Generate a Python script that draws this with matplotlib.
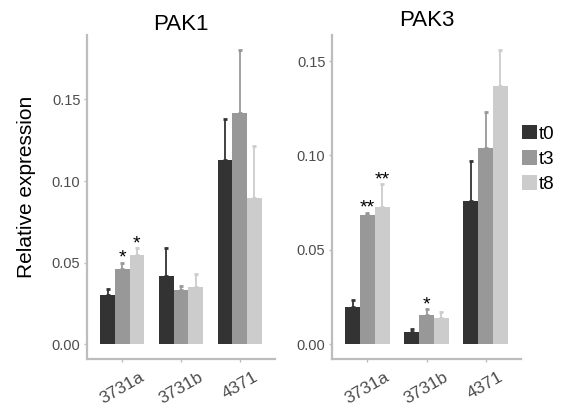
import numpy as np
import matplotlib
matplotlib.use("Agg")
import matplotlib.pyplot as plt
from matplotlib.patches import Patch

plt.rcParams['font.family'] = ['Liberation Sans', 'DejaVu Sans']

# data
genes = ['3731a', '3731b', '4371']
times = ['t0', 't3', 't8']
colors = ['#333333', '#989898', '#cccccc']

pak1_mean = {'t0': [0.030, 0.042, 0.113],
             't3': [0.046, 0.033, 0.1415],
             't8': [0.055, 0.035, 0.0895]}
pak1_err = {'t0': [0.004, 0.017, 0.025],
            't3': [0.004, 0.003, 0.039],
            't8': [0.004, 0.008, 0.032]}
pak1_stars = {'t3': ['*', '', ''], 't8': ['*', '', '']}

pak3_mean = {'t0': [0.0197, 0.0063, 0.076],
             't3': [0.0687, 0.0157, 0.104],
             't8': [0.0725, 0.0141, 0.137]}
pak3_err = {'t0': [0.0039, 0.0016, 0.0212],
            't3': [0.0010, 0.0028, 0.019],
            't8': [0.0124, 0.0028, 0.019]}
pak3_stars = {'t3': ['**', '*', ''], 't8': ['**', '', '']}

axis_grey = '#bdbdbd'
tick_grey = '#4d4d4d'


def draw_panel(ax, means, errs, stars, title, title_pad):
    x = np.arange(len(genes)) + 1
    w = 0.25
    top = 0
    for i, t in enumerate(times):
        xi = x + (i - 1) * w
        m = np.array(means[t])
        e = np.array(errs[t])
        ax.bar(xi, m, width=w, color=colors[i], linewidth=0, zorder=2)
        ax.errorbar(xi, m, yerr=[np.zeros_like(e), e], fmt='none',
                    ecolor=colors[i], elinewidth=1.3, capsize=1.6,
                    capthick=2, zorder=1)
        top = max(top, (m + e).max())
        if t in stars:
            for xx, yy, s in zip(xi, m + e, stars[t]):
                if s:
                    ax.text(xx, yy, s, ha='center', va='baseline',
                            fontsize=14, color='black')
    # ggplot style expansion
    ax.set_ylim(-0.05 * top, top * 1.05)
    ax.set_xlim(0.4, 3.6)
    ax.set_xticks(x)
    ax.set_xticklabels(genes, rotation=30, ha='center', va='top',
                       fontsize=12.5, color=tick_grey)
    ax.set_yticks([0, 0.05, 0.10, 0.15])
    ax.set_yticklabels(['0.00', '0.05', '0.10', '0.15'], fontsize=10.5,
                       color=tick_grey)
    ax.tick_params(axis='both', colors=axis_grey, length=2.2, width=1)
    ax.tick_params(axis='x', pad=5)
    ax.tick_params(axis='y', pad=2.5)
    for lab in ax.get_xticklabels() + ax.get_yticklabels():
        lab.set_color(tick_grey)
    for s in ['top', 'right']:
        ax.spines[s].set_visible(False)
    for s in ['left', 'bottom']:
        ax.spines[s].set_color(axis_grey)
        ax.spines[s].set_linewidth(1.6)
        ax.spines[s].set_capstyle('projecting')
    ax.set_title(title, fontsize=16, pad=title_pad)


fig = plt.figure(figsize=(5.76, 4.16), dpi=100)
ax1 = fig.add_axes([87 / 576, 57 / 416, 188 / 576, 324 / 416])
ax2 = fig.add_axes([332 / 576, 57 / 416, 189 / 576, 324 / 416])

draw_panel(ax1, pak1_mean, pak1_err, pak1_stars, 'PAK1', 2.4)
draw_panel(ax2, pak3_mean, pak3_err, pak3_stars, 'PAK3', 6.5)

fig.text(27 / 576, 1 - 186.5 / 416, 'Relative expression', rotation=90,
         ha='center', va='center', fontsize=15)

handles = [Patch(facecolor=c, edgecolor='none') for c in colors]
fig.legend(handles, times, loc='upper left',
           bbox_to_anchor=(522 / 576, 1 - 125 / 416), frameon=False,
           fontsize=13.5, handlelength=0.8, handleheight=0.8,
           handletextpad=0.1, labelspacing=0.4, borderpad=0,
           borderaxespad=0)

fig.savefig('out.png', dpi=100)
